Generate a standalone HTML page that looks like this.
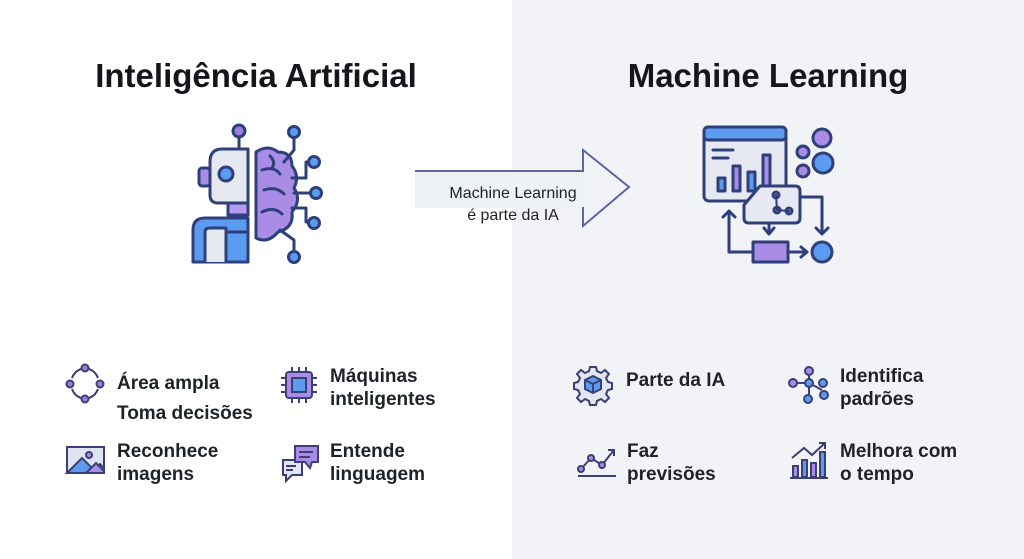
<!DOCTYPE html>
<html><head><meta charset="utf-8"><style>
html,body{margin:0;padding:0;width:1024px;height:559px;overflow:hidden;background:#fff}
svg{display:block}
text{font-family:"Liberation Sans",sans-serif;fill:#1a1d24}
.t{font-size:33px;font-weight:bold;fill:#14161c}
.l{font-size:19px;font-weight:bold;fill:#1f2229}
</style></head><body>
<svg width="1024" height="559" viewBox="0 0 1024 559">
<rect x="0" y="0" width="512" height="559" fill="#ffffff"/>
<rect x="512" y="0" width="512" height="559" fill="#f1f3f7"/>
<text class="t" x="256" y="87" text-anchor="middle">Inteligência Artificial</text>
<text class="t" x="768" y="87" text-anchor="middle">Machine Learning</text>

<!-- arrow -->
<rect x="415" y="172" width="168" height="36" fill="#eef1f6"/>
<polyline points="415,171 583,171 583,150 629,187 583,226 583,207" fill="none" stroke="#5f64a3" stroke-width="2"/>
<text x="513" y="198" font-size="16" text-anchor="middle" style="fill:#1f2229">Machine Learning</text>
<text x="513" y="220" font-size="16" text-anchor="middle" style="fill:#1f2229">é parte da IA</text>

<!-- robot/brain icon -->
<g stroke="#2f3f7a" stroke-width="3" stroke-linejoin="round" stroke-linecap="round">
<line x1="239" y1="147" x2="239" y2="133"/>
<circle cx="239" cy="131" r="6" fill="#9b7fe0"/>
<path d="M248,149 H222 Q210,149 210,162 V195 Q210,203 218,203 H228 V215 H248 Z" fill="#e6e8ef"/>
<rect x="199" y="168" width="11" height="18" rx="3" fill="#a98ce6"/>
<circle cx="226" cy="174" r="7" fill="#5b9cf0"/>
<rect x="228" y="203" width="20" height="12" fill="#b49af0"/>
<path d="M248,218 H205 Q193,218 193,230 V262 H248 Z" fill="#5b9cf0"/>
<path d="M205,262 V232 Q205,228 210,228 H226 V262" fill="#e6e8ef"/>
<rect x="226" y="232" width="22" height="30" fill="#5b9cf0"/>
<path d="M256,152 Q268,144 278,152 Q292,152 292,166 Q300,176 294,188 Q302,200 292,212 Q294,228 278,232 Q268,244 256,238 Z" fill="#a98ce6"/>
<path d="M262,170 Q274,166 280,174 M264,190 Q276,186 284,194 M262,212 Q274,206 282,214 M270,156 Q276,162 272,168" fill="none"/>
<path d="M284,162 L294,150 V137 M292,178 H306 V162 H313 M294,193 H313 M292,208 H306 V222 H313 M280,230 L294,240 V253" fill="none"/>
<circle cx="294" cy="132" r="5.5" fill="#5b9cf0"/>
<circle cx="314" cy="162" r="5.5" fill="#5b9cf0"/>
<circle cx="316" cy="193" r="5.5" fill="#5b9cf0"/>
<circle cx="314" cy="223" r="5.5" fill="#5b9cf0"/>
<circle cx="294" cy="257" r="5.5" fill="#5b9cf0"/>
</g>

<!-- ML icon -->
<g stroke="#2f3f7a" stroke-width="3" stroke-linejoin="round" stroke-linecap="round">
<rect x="704" y="127" width="82" height="74" rx="5" fill="#e6e8f2"/>
<rect x="704" y="127" width="82" height="13" rx="4" fill="#5b9cf0"/>
<line x1="713" y1="150" x2="733" y2="150"/><line x1="713" y1="158" x2="728" y2="158"/>
<rect x="718" y="178" width="7" height="13" fill="#5b9cf0"/>
<rect x="733" y="166" width="7" height="25" fill="#a98ce6"/>
<rect x="748" y="172" width="7" height="19" fill="#5b9cf0"/>
<rect x="763" y="155" width="7" height="36" fill="#a98ce6"/>
<circle cx="822" cy="138" r="9" fill="#a98ce6"/>
<circle cx="803" cy="152" r="6" fill="#a98ce6"/>
<circle cx="823" cy="163" r="10" fill="#5b9cf0"/>
<circle cx="803" cy="171" r="6" fill="#a98ce6"/>
<path d="M760,186 H795 Q800,186 800,191 V218 Q800,223 795,223 H749 Q744,223 744,218 V205 Z" fill="#e6e8f2"/>
<circle cx="776" cy="195" r="3" fill="#a98ce6"/><circle cx="777" cy="210" r="3" fill="#a98ce6"/><circle cx="789" cy="211" r="3" fill="#a98ce6"/>
<path d="M776,195 L777,210 L789,211" fill="none" stroke-width="2"/>
<path d="M800,197 H822 V233 M816,228 L822,234 L828,228" fill="none"/>
<path d="M769,223 V233 M764,228 L769,234 L774,228" fill="none"/>
<path d="M729,211 V252 H753 M723,217 L729,211 L735,217" fill="none"/>
<rect x="753" y="242" width="35" height="20" fill="#a98ce6"/>
<path d="M788,252 H806 M801,247 L807,252 L801,257" fill="none"/>
<circle cx="822" cy="252" r="10" fill="#5b9cf0"/>
</g>

<!-- left features -->
<g stroke="#3b3f75" stroke-width="2" fill="none">
<path d="M89,369 A15,15 0 0 1 98,378 M98,389 A15,15 0 0 1 89,398 M81,398 A15,15 0 0 1 72,389 M72,378 A15,15 0 0 1 81,369"/>
<circle cx="85" cy="368" r="3.5" fill="#9b7fe0"/><circle cx="70" cy="384" r="3.5" fill="#9b7fe0"/>
<circle cx="100" cy="384" r="3.5" fill="#9b7fe0"/><circle cx="85" cy="399" r="3.5" fill="#9b7fe0"/>
<rect x="286" y="372" width="26" height="26" rx="3" fill="#a98ce6"/>
<rect x="292" y="378" width="14" height="14" fill="#5b9cf0"/>
<path d="M292,367V372M299,367V372M306,367V372M292,398V403M299,398V403M306,398V403M281,378H286M281,385H286M281,392H286M312,378H317M312,385H317M312,392H317"/>
<rect x="67" y="447" width="37" height="26" fill="#dfe4f2"/>
<path d="M67,473 L82,458 L94,470 L100,464 L104,468 V473Z" fill="#5b9cf0"/>
<path d="M86,473 L96,463 L104,471 V473Z" fill="#a98ce6"/>
<circle cx="89" cy="455" r="3" fill="#a98ce6"/>
<path d="M283,460 H302 V475 H292 L286,481 V475 H283 Z" fill="#e3e6f0"/>
<path d="M295,446 H318 V462 H312 L310,468 L305,462 H295 Z" fill="#a98ce6"/>
<path d="M299,452H313M299,457H310M286,466H296M286,470H293"/>
</g>
<text class="l" x="117" y="389">Área ampla</text>
<text class="l" x="117" y="419">Toma decisões</text>
<text class="l" x="330" y="382">Máquinas</text>
<text class="l" x="330" y="405">inteligentes</text>
<text class="l" x="117" y="457">Reconhece</text>
<text class="l" x="117" y="480">imagens</text>
<text class="l" x="330" y="457">Entende</text>
<text class="l" x="330" y="480">linguagem</text>

<!-- right features -->
<g stroke="#3b3f75" stroke-width="2" fill="none">
<path d="M590,367 H596 L597,371 L601,373 L605,370 L609,374 L606,378 L608,382 L612,383 V389 L608,390 L606,394 L609,398 L605,402 L601,399 L597,401 L596,405 H590 L589,401 L585,399 L581,402 L577,398 L580,394 L578,390 L574,389 V383 L578,382 L580,378 L577,374 L581,370 L585,373 L589,371 Z" fill="#e3e6f0"/>
<path d="M593,376 L601,380 V389 L593,393 L585,389 V380 Z" fill="#5b9cf0"/>
<path d="M585,380 L593,384 L601,380 M593,384 V393"/>
<path d="M791,383 H809 M809,372 V395 M809,383 L822,390"/>
<circle cx="809" cy="371" r="4" fill="#a98ce6"/><circle cx="793" cy="383" r="4" fill="#a98ce6"/>
<circle cx="809" cy="383" r="4" fill="#5b9cf0"/><circle cx="823" cy="383" r="4" fill="#5b9cf0"/>
<circle cx="824" cy="395" r="4" fill="#5b9cf0"/><circle cx="808" cy="399" r="4" fill="#5b9cf0"/>
<path d="M578,476 H616"/>
<path d="M581,469 L591,458 L602,465 L614,450 M608,450 H614 V456"/>
<circle cx="581" cy="469" r="3" fill="#a98ce6"/><circle cx="591" cy="458" r="3" fill="#a98ce6"/><circle cx="602" cy="465" r="3" fill="#a98ce6"/>
<path d="M790,478 H828"/>
<rect x="793" y="466" width="5" height="11" fill="#a98ce6"/>
<rect x="802" y="460" width="5" height="17" fill="#5b9cf0"/>
<rect x="811" y="463" width="5" height="14" fill="#a98ce6"/>
<rect x="820" y="452" width="5" height="25" fill="#5b9cf0"/>
<path d="M792,458 L804,448 L812,455 L825,443 M819,443 H825 V449"/>
</g>
<text class="l" x="626" y="386">Parte da IA</text>
<text class="l" x="840" y="382">Identifica</text>
<text class="l" x="840" y="405">padrões</text>
<text class="l" x="627" y="457">Faz</text>
<text class="l" x="627" y="480">previsões</text>
<text class="l" x="840" y="457">Melhora com</text>
<text class="l" x="840" y="480">o tempo</text>
</svg>
</body></html>
